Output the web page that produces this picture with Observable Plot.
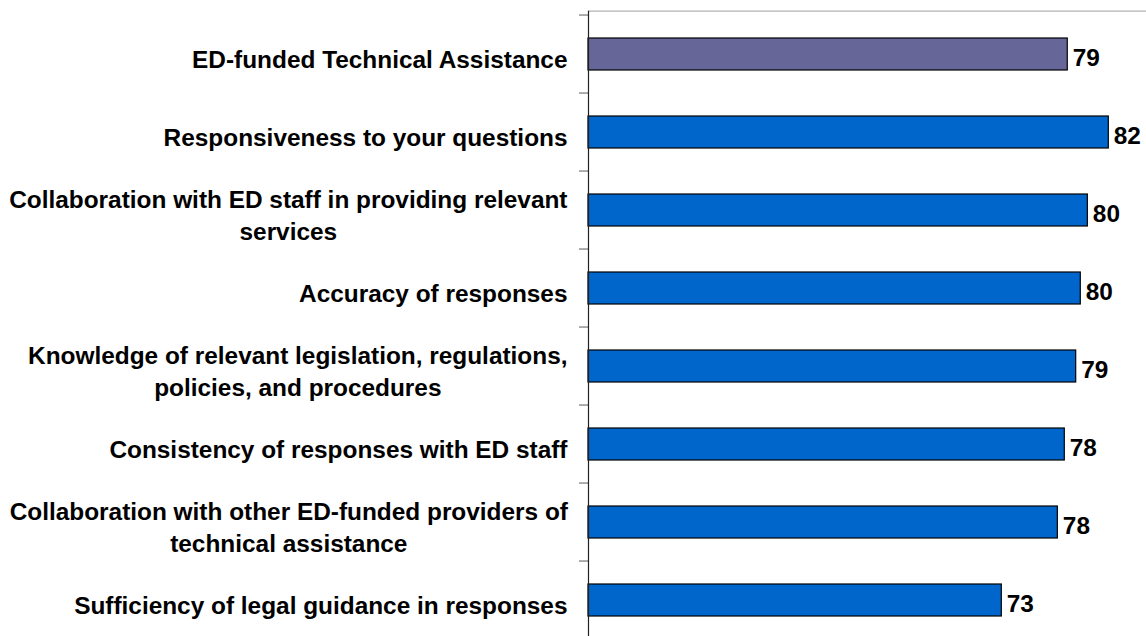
<!DOCTYPE html>
<html><head><meta charset="utf-8">
<script src="https://cdn.jsdelivr.net/npm/d3@7"></script>
<script src="https://cdn.jsdelivr.net/npm/@observablehq/plot@0.6"></script>
<style>
html,body{margin:0;padding:0;background:#fff;overflow:hidden;}
#chart{width:1146px;height:636px;overflow:hidden;}
</style></head><body><div id="chart"></div>
<script>
const categories = [
  "ED-funded Technical Assistance",
  "Responsiveness to your questions",
  "Collaboration with ED staff in providing relevant services",
  "Accuracy of responses",
  "Knowledge of relevant legislation, regulations, policies, and procedures",
  "Consistency of responses with ED staff",
  "Collaboration with other ED-funded providers of technical assistance",
  "Sufficiency of legal guidance in responses"
];
const tickLabels = [
  "ED-funded Technical Assistance",
  "Responsiveness to your questions",
  "Collaboration with ED staff in providing relevant\nservices",
  "Accuracy of responses",
  "Knowledge of relevant legislation, regulations,\npolicies, and procedures",
  "Consistency of responses with ED staff",
  "Collaboration with other ED-funded providers of\ntechnical assistance",
  "Sufficiency of legal guidance in responses"
];
const values = [78.65, 81.96, 80.27, 79.70, 79.33, 78.41, 77.85, 73.33];
const valueLabels = ["79", "82", "80", "80", "79", "78", "78", "73"];
const highlighted = "ED-funded Technical Assistance";
const xDomain = [40, 85];

const data = categories.map((name, i) => ({name, value: values[i], label: valueLabels[i], tick: tickLabels[i]}));
const tickOf = new Map(data.map(d => [d.name, d.tick]));

const W = 1146, H = 643, mt = 10.7, mb = 0.9, ml = 588;
const step = (H - mt - mb) / categories.length;
const font = "'Liberation Sans', Arial, Helvetica, sans-serif";
const fs = 24.4;

const chart = Plot.plot({
  width: W, height: H,
  marginTop: mt, marginBottom: mb, marginLeft: ml, marginRight: 0,
  style: {fontFamily: font, background: "#fff"},
  x: {domain: xDomain, axis: null},
  y: {domain: categories, paddingInner: 0.595, paddingOuter: 0.2975, axis: null},
  marks: [
    Plot.frame({anchor: "top", stroke: "#b3b3b3", strokeWidth: 1.3}),
    Plot.barX(data, {
      x1: xDomain[0], x2: "value", y: "name",
      fill: d => d.name === highlighted ? "#666699" : "#0066CC",
      stroke: "#000", strokeWidth: 1.2
    }),
    Plot.axisY({ticks: categories, tickSize: 9, tickFormat: () => "", label: null,
      stroke: "#808080", strokeWidth: 1.3, dy: -step / 2}),
    Plot.axisY({ticks: categories, tickSize: 0, tickPadding: 21, label: null,
      tickFormat: d => tickOf.get(d),
      fontSize: fs, fontWeight: "bold", fill: "#000", lineHeight: 1.28, dy: 3.5, textAnchor: "end"}),
    Plot.ruleX([xDomain[0]], {stroke: "#222", strokeWidth: 1.2}),
    Plot.text(data, {x: "value", y: "name", text: "label", textAnchor: "start",
      dx: 5, dy: 3.5, fontSize: fs, fontWeight: "bold", fill: "#000"})
  ]
});
document.getElementById("chart").append(chart);

// center the lines of multi-line category labels within their right-aligned block
chart.querySelectorAll('g[aria-label="y-axis tick label"] text').forEach(t => {
  const spans = t.querySelectorAll("tspan");
  if (spans.length < 2) return;
  const b = t.getBBox();
  t.setAttribute("text-anchor", "middle");
  spans.forEach(s => s.setAttribute("x", b.x + b.width / 2));
});
</script>
</body></html>
